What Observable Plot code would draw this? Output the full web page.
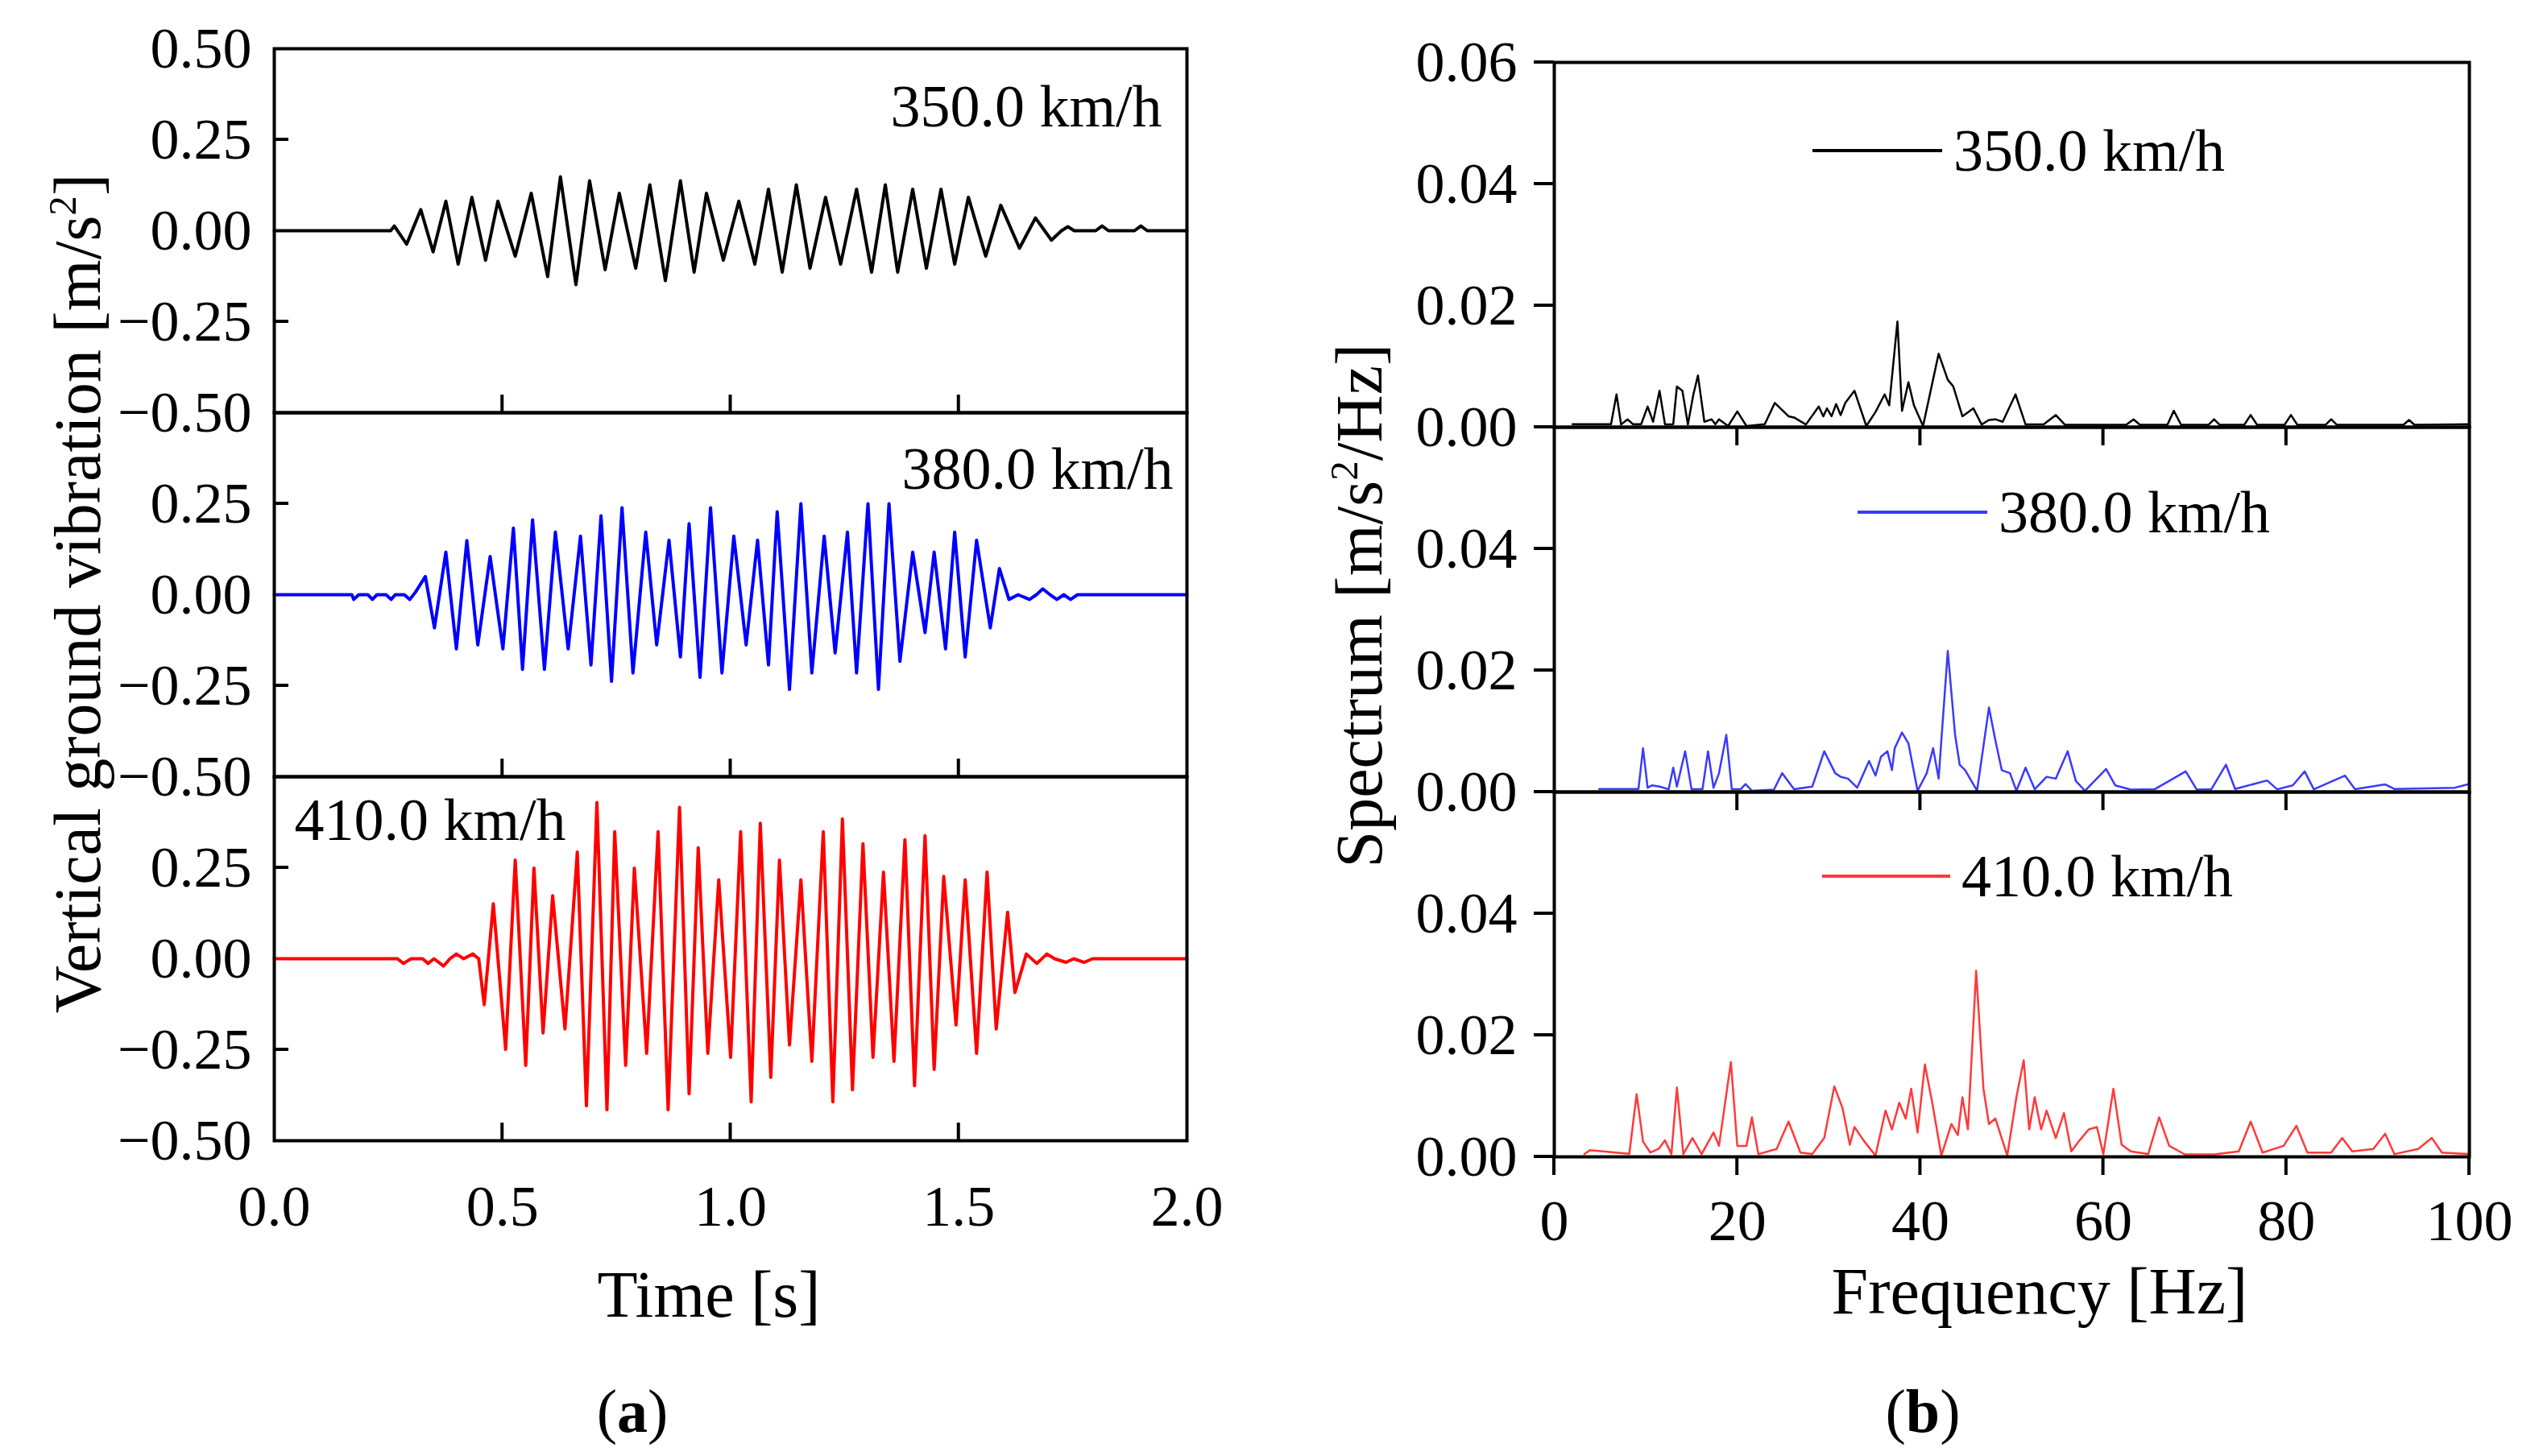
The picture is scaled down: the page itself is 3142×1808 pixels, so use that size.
<!DOCTYPE html>
<html>
<head>
<meta charset="utf-8">
<script src="https://cdn.jsdelivr.net/npm/d3@7"></script>
<script src="https://cdn.jsdelivr.net/npm/@observablehq/plot@0.6"></script>
<style>
  body { margin: 0; background: #fff; }
  #fig { position: relative; width: 3142px; height: 1808px; font-family: "Liberation Serif", serif; color: #000; overflow: hidden; }
  #fig svg { position: absolute; max-width: none; }
  .lbl { position: absolute; white-space: nowrap; line-height: 1; transform: translate(-50%, -50%); }
  .rot { transform: translate(-50%, -50%) rotate(-90deg); }
  sup { font-size: 0.6em; vertical-align: 0.6em; line-height: 0; }
</style>
</head>
<body>
<div id="fig"></div>
<script>
// ---- (a) vertical ground vibration, [time s, acceleration m/s2]
const speeds = ["350.0 km/h", "380.0 km/h", "410.0 km/h"];

const acc350 = [[0,0],[0.255,0],[0.263,0.013],[0.290,-0.037],[0.321,0.058],[0.348,-0.058],[0.376,0.081],[0.403,-0.092],
  [0.433,0.092],[0.463,-0.081],[0.490,0.081],[0.528,-0.070],[0.563,0.103],[0.599,-0.126],[0.627,0.148],[0.661,-0.148],
  [0.691,0.137],[0.725,-0.107],[0.756,0.103],[0.792,-0.103],[0.823,0.126],[0.857,-0.137],[0.890,0.137],[0.920,-0.114],
  [0.947,0.103],[0.984,-0.081],[1.018,0.081],[1.053,-0.092],[1.083,0.114],[1.113,-0.114],[1.144,0.126],[1.174,-0.103],
  [1.208,0.092],[1.241,-0.092],[1.276,0.114],[1.309,-0.114],[1.339,0.126],[1.366,-0.114],[1.399,0.114],[1.429,-0.103],
  [1.461,0.114],[1.491,-0.092],[1.521,0.092],[1.559,-0.070],[1.592,0.070],[1.633,-0.048],[1.668,0.035],[1.703,-0.026],
  [1.725,0],[1.739,0.011],[1.753,0],[1.800,0],[1.814,0.013],[1.828,0],[1.885,0],[1.899,0.013],[1.913,0],[2.0,0]];

const acc380 = [[0,0],[0.170,0],[0.174,-0.013],[0.185,0],[0.205,0],[0.215,-0.013],[0.225,0],[0.245,0],[0.256,-0.013],
  [0.265,0],[0.285,0],[0.297,-0.013],[0.310,0.008],[0.331,0.050],[0.351,-0.091],[0.376,0.117],[0.399,-0.149],[0.422,0.149],
  [0.446,-0.138],[0.473,0.105],[0.501,-0.149],[0.524,0.183],[0.544,-0.205],[0.566,0.206],[0.592,-0.205],[0.616,0.172],
  [0.644,-0.149],[0.671,0.161],[0.694,-0.193],[0.716,0.217],[0.739,-0.238],[0.762,0.239],[0.786,-0.215],[0.814,0.172],
  [0.838,-0.138],[0.865,0.150],[0.890,-0.171],[0.909,0.195],[0.933,-0.227],[0.956,0.239],[0.981,-0.215],[1.007,0.161],
  [1.034,-0.138],[1.059,0.150],[1.083,-0.193],[1.102,0.228],[1.129,-0.260],[1.154,0.250],[1.178,-0.215],[1.205,0.161],
  [1.229,-0.160],[1.256,0.172],[1.276,-0.215],[1.301,0.250],[1.324,-0.260],[1.347,0.250],[1.371,-0.183],[1.399,0.117],
  [1.426,-0.104],[1.446,0.117],[1.471,-0.149],[1.491,0.172],[1.514,-0.171],[1.539,0.150],[1.569,-0.091],[1.589,0.072],
  [1.610,-0.013],[1.630,0],[1.655,-0.013],[1.670,0],[1.684,0.016],[1.700,0],[1.715,-0.013],[1.730,0],[1.745,-0.013],
  [1.760,0],[2.0,0]];

const acc410 = [[0,0],[0.270,0],[0.283,-0.013],[0.300,0],[0.325,0],[0.337,-0.013],[0.350,0],[0.371,-0.020],[0.385,0],
  [0.399,0.013],[0.415,0],[0.435,0.013],[0.448,0],[0.460,-0.126],[0.480,0.151],[0.507,-0.249],[0.528,0.271],[0.551,-0.293],
  [0.569,0.249],[0.589,-0.204],[0.610,0.173],[0.637,-0.193],[0.664,0.293],[0.684,-0.404],[0.707,0.429],[0.729,-0.415],
  [0.746,0.349],[0.770,-0.293],[0.789,0.249],[0.816,-0.260],[0.841,0.349],[0.863,-0.415],[0.888,0.416],[0.909,-0.371],
  [0.929,0.305],[0.950,-0.260],[0.974,0.217],[1.000,-0.271],[1.022,0.349],[1.045,-0.393],[1.065,0.372],[1.088,-0.326],
  [1.107,0.271],[1.129,-0.237],[1.154,0.217],[1.178,-0.282],[1.203,0.349],[1.224,-0.393],[1.245,0.384],[1.267,-0.360],
  [1.290,0.316],[1.312,-0.271],[1.335,0.238],[1.358,-0.282],[1.382,0.327],[1.403,-0.349],[1.426,0.338],[1.446,-0.304],
  [1.467,0.226],[1.494,-0.182],[1.514,0.217],[1.539,-0.260],[1.562,0.238],[1.582,-0.193],[1.607,0.128],[1.623,-0.093],
  [1.648,0.013],[1.671,-0.013],[1.693,0.013],[1.710,0],[1.735,-0.010],[1.752,0],[1.775,-0.010],[1.793,0],[2.0,0]];

// ---- (b) spectrum, [frequency Hz, m/s2/Hz]
const spec350 = [[2.0,0.0005],[6.2,0.0005],[6.8,0.0054],[7.3,0.00045],[8.0,0.0013],[8.6,0.0005],[9.5,0.0005],[10.2,0.0034],
  [10.8,0.0009],[11.5,0.006],[12.1,0.00045],[13.0,0.0005],[13.4,0.0067],[14.0,0.006],[14.6,0.00045],[15.2,0.0054],
  [15.7,0.0085],[16.4,0.0009],[17.2,0.0013],[17.6,0.0005],[18.0,0.0013],[19.0,0.0002],[20.0,0.0026],[21.0,0.0002],
  [23.0,0.0005],[24.1,0.004],[25.6,0.0018],[26.2,0.0016],[27.5,0.00045],[28.9,0.0034],[29.4,0.0018],[29.8,0.0031],
  [30.3,0.0018],[30.8,0.0038],[31.3,0.002],[31.8,0.004],[32.8,0.006],[34.1,0.0002],[35.1,0.0025],[36.1,0.0054],
  [36.6,0.0036],[37.5,0.0174],[38.0,0.0027],[38.7,0.0074],[39.3,0.0036],[40.3,0.0002],[42.0,0.0121],[43.0,0.0078],
  [43.6,0.0067],[44.6,0.0018],[45.8,0.0031],[46.7,0.00045],[47.5,0.0012],[48.2,0.0013],[49.0,0.0009],[50.4,0.0054],
  [51.5,0.00045],[53.5,0.0005],[54.8,0.002],[55.8,0.0004],[62.5,0.0004],[63.3,0.0013],[64.0,0.0004],[67.0,0.0004],
  [67.7,0.0027],[68.5,0.0004],[71.5,0.0004],[72.1,0.0013],[72.7,0.0004],[75.4,0.0004],[76.1,0.002],[76.8,0.0004],
  [79.8,0.0004],[80.5,0.002],[81.2,0.0004],[84.3,0.0004],[84.9,0.0013],[85.5,0.0004],[92.8,0.0004],[93.4,0.0012],
  [94.0,0.0004],[100,0.0005]];

const spec380 = [[4.9,0.0005],[9.2,0.0005],[9.7,0.0072],[10.2,0.0007],[10.7,0.0011],[11.5,0.0009],[12.5,0.00045],[13.0,0.004],
  [13.4,0.0009],[14.3,0.0067],[15.0,0.00045],[16.2,0.0005],[16.8,0.0067],[17.4,0.0007],[18.0,0.0031],[18.8,0.0094],
  [19.4,0.00045],[20.4,0.0005],[20.9,0.0013],[21.6,0.0002],[24.0,0.0004],[24.9,0.0031],[26.2,0.00045],[28.2,0.0009],
  [29.5,0.0067],[30.7,0.0031],[31.3,0.0025],[32.1,0.0022],[33.1,0.0007],[34.4,0.0051],[35.1,0.0027],[35.7,0.0058],
  [36.4,0.0067],[36.9,0.0036],[37.2,0.0072],[38.0,0.0098],[38.7,0.008],[39.7,0.0002],[40.7,0.0031],[41.4,0.0072],
  [42.0,0.0022],[43.0,0.0232],[43.8,0.0094],[44.3,0.0045],[44.9,0.0036],[46.2,0.0002],[47.5,0.0139],[48.2,0.0085],
  [48.9,0.0036],[49.8,0.0031],[50.5,0.0002],[51.5,0.004],[52.5,0.00045],[53.8,0.0025],[54.8,0.0022],[56.1,0.0067],
  [57.0,0.0018],[58.0,0.0002],[60.3,0.0038],[61.3,0.0011],[63.0,0.0004],[65.6,0.00045],[69.0,0.0034],[70.2,0.0004],
  [71.8,0.00045],[73.4,0.0045],[74.4,0.0005],[77.9,0.0019],[79.0,0.00045],[80.7,0.0011],[82.0,0.0034],[83.0,0.00045],
  [86.4,0.0027],[87.5,0.00045],[90.8,0.00125],[91.8,0.0005],[98.4,0.0007],[99.8,0.00125]];

const spec410 = [[3.3,0.00045],[3.9,0.0011],[8.2,0.0005],[9.0,0.0103],[9.7,0.0025],[10.5,0.0007],[11.4,0.0013],[12.1,0.0027],
  [12.8,0.00045],[13.4,0.0114],[14.1,0.00045],[15.1,0.0031],[16.1,0.00045],[17.4,0.004],[18.0,0.0018],[19.3,0.0156],
  [20.0,0.0018],[21.0,0.0018],[21.6,0.0065],[22.3,0.00045],[24.3,0.0013],[25.6,0.0058],[26.9,0.0007],[28.2,0.00045],
  [29.5,0.0031],[30.6,0.0116],[31.5,0.008],[32.3,0.002],[32.8,0.0049],[33.8,0.0027],[35.1,0.0002],[36.2,0.0076],
  [36.9,0.0045],[37.7,0.0089],[38.4,0.0063],[39.0,0.0112],[39.7,0.004],[40.5,0.0152],[41.3,0.0089],[42.3,0.0002],
  [43.4,0.0054],[44.1,0.0036],[44.6,0.0098],[45.2,0.0045],[46.1,0.0306],[46.9,0.0112],[47.5,0.0054],[48.2,0.0063],
  [49.5,0.0002],[50.5,0.0098],[51.3,0.0159],[51.9,0.0045],[52.5,0.0098],[53.2,0.0045],[53.8,0.0076],[54.8,0.0031],
  [55.7,0.0072],[56.5,0.0009],[57.4,0.0027],[58.4,0.0045],[59.3,0.0049],[60.0,0.00045],[61.1,0.0112],[62.0,0.002],
  [63.0,0.0009],[64.9,0.00045],[66.1,0.0065],[67.2,0.0018],[68.9,0.0004],[72.1,0.0004],[74.8,0.0009],[76.1,0.0058],
  [77.4,0.0007],[79.7,0.0018],[81.1,0.0051],[82.3,0.0007],[84.9,0.0007],[86.1,0.0031],[87.2,0.0009],[89.5,0.0013],
  [90.8,0.0038],[91.8,0.00045],[94.4,0.0013],[95.9,0.0031],[97.0,0.0007],[100,0.00045]];

// tick values
const accTicksTop = [0.5, 0.25, 0, -0.25, -0.5];
const accTicks = [0.25, 0, -0.25, -0.5];
const accInner = [0.25, -0.25];
const timeTicks = [0, 0.5, 1, 1.5, 2];
const timeInner = [0.5, 1, 1.5];
const specTicksTop = [0, 0.02, 0.04, 0.06];
const specTicks = [0, 0.02, 0.04];
const freqTicks = [0, 20, 40, 60, 80, 100];
const freqInner = [20, 40, 60, 80];

const fig = document.getElementById("fig");

// ticks drawn from the scales; len > 0 points into the frame, len < 0 points out
function tickMark(axis, values, len) {
  return (index, scales, channels, dims) => {
    const g = d3.create("svg:g").attr("stroke", "black").attr("stroke-width", 4);
    const bottom = dims.height - dims.marginBottom;
    for (const v of values) {
      if (axis === "x") {
        const px = scales.x(v);
        g.append("line").attr("x1", px).attr("x2", px).attr("y1", bottom).attr("y2", bottom - len);
      } else {
        const py = scales.y(v);
        g.append("line").attr("x1", dims.marginLeft).attr("x2", dims.marginLeft + len).attr("y1", py).attr("y2", py);
      }
    }
    return g.node();
  };
}

function legendMark(label, color, x1, x2, y) {
  return (index, scales, channels, dims) => {
    const g = d3.create("svg:g");
    const l = dims.marginLeft, t = dims.marginTop;
    g.append("line").attr("x1", l + x1).attr("x2", l + x2).attr("y1", t + y).attr("y2", t + y)
      .attr("stroke", color).attr("stroke-width", 4);
    g.append("text").attr("x", l + x2 + 14).attr("y", t + y).attr("dy", "0.34em")
      .attr("text-anchor", "start").attr("font-size", 74).attr("fill", "black").text(label);
    return g.node();
  };
}

function subplot(o) {
  const mL = 300, mR = 40, mT = 40, mB = o.bottom ? 180 : 40;
  const chart = Plot.plot({
    width: mL + o.w + mR,
    height: mT + o.h + mB,
    marginLeft: mL, marginRight: mR, marginTop: mT, marginBottom: mB,
    style: {fontFamily: "Liberation Serif", fontSize: "72px", background: "transparent", overflow: "visible"},
    x: {domain: o.xDomain, axis: null},
    y: {domain: o.yDomain, axis: null},
    marks: [
      Plot.line(o.data, {x: d => d[0], y: d => d[1], stroke: o.color, strokeWidth: o.lineWidth}),
      Plot.frame({stroke: "black", strokeWidth: 4}),
      Plot.axisY(o.yLabels, {tickSize: 0, tickPadding: o.yPad, tickFormat: d3.format(".2f"), fontSize: 72}),
      tickMark("y", o.yTicks, o.yLen),
      tickMark("x", o.xTicks, o.xLen),
      o.bottom ? Plot.axisX(o.xLabels, {tickSize: 0, tickPadding: o.xPad, tickFormat: o.xFormat, fontSize: 72}) : null,
      ...(o.extra || [])
    ]
  });
  chart.style.left = (o.left - mL) + "px";
  chart.style.top = (o.top - mT) + "px";
  fig.append(chart);
}

// ---- panel (a)
const accSeries = [acc350, acc380, acc410];
const accColors = ["black", "#0000ff", "#ff0000"];
const accTops = [60, 512, 964];
const speedLabel = [
  Plot.text([speeds[0]], {frameAnchor: "top-right", dx: -31, dy: 73, textAnchor: "end", lineAnchor: "middle", fontSize: 74}),
  Plot.text([speeds[1]], {frameAnchor: "top-right", dx: -17, dy: 71, textAnchor: "end", lineAnchor: "middle", fontSize: 74}),
  Plot.text([speeds[2]], {frameAnchor: "top-left", dx: 25, dy: 55, textAnchor: "start", lineAnchor: "middle", fontSize: 74})
];
accSeries.forEach((data, i) => subplot({
  data, color: accColors[i], lineWidth: 4,
  left: 340, top: accTops[i], w: 1133, h: 452,
  xDomain: [0, 2], yDomain: [-0.5, 0.5],
  yLabels: i === 0 ? accTicksTop : accTicks, yTicks: accInner, yLen: 18, yPad: 28,
  xTicks: timeInner, xLen: 22,
  bottom: i === 2, xLabels: timeTicks, xPad: 54, xFormat: d3.format(".1f"),
  extra: [speedLabel[i]]
}));

// ---- panel (b)
const specSeries = [spec350, spec380, spec410];
const specColors = ["black", "#3a3aff", "#ff3a3a"];
const specTops = [77, 530, 983];
const legendPos = [[321, 482, 110], [377, 538, 106], [333, 492, 105]];
specSeries.forEach((data, i) => subplot({
  data, color: specColors[i], lineWidth: 2.5,
  left: 1929, top: specTops[i], w: 1136, h: 453,
  xDomain: [0, 100], yDomain: [0, 0.06],
  yLabels: i === 0 ? specTicksTop : specTicks, yTicks: i === 0 ? specTicksTop : specTicks, yLen: -25, yPad: 46,
  xTicks: i === 2 ? freqTicks : freqInner, xLen: -23,
  bottom: i === 2, xLabels: freqTicks, xPad: 52, xFormat: d3.format("d"),
  extra: [legendMark(speeds[i], specColors[i], ...legendPos[i])]
}));

// ---- titles and captions
function label(html, x, y, size, rot) {
  const d = document.createElement("div");
  d.className = "lbl" + (rot ? " rot" : "");
  d.style.left = x + "px";
  d.style.top = y + "px";
  d.style.fontSize = size + "px";
  d.innerHTML = html;
  fig.append(d);
}
label("Vertical ground vibration [m/s<sup>2</sup>]", 97, 737, 82, true);
label("Time [s]", 880, 1608, 82);
label("(<b>a</b>)", 785, 1752, 76);
label("Spectrum [m/s<sup>2</sup>/Hz]", 1688, 752, 82, true);
label("Frequency [Hz]", 2532, 1604, 82);
label("(<b>b</b>)", 2387, 1752, 76);
</script>
</body>
</html>
